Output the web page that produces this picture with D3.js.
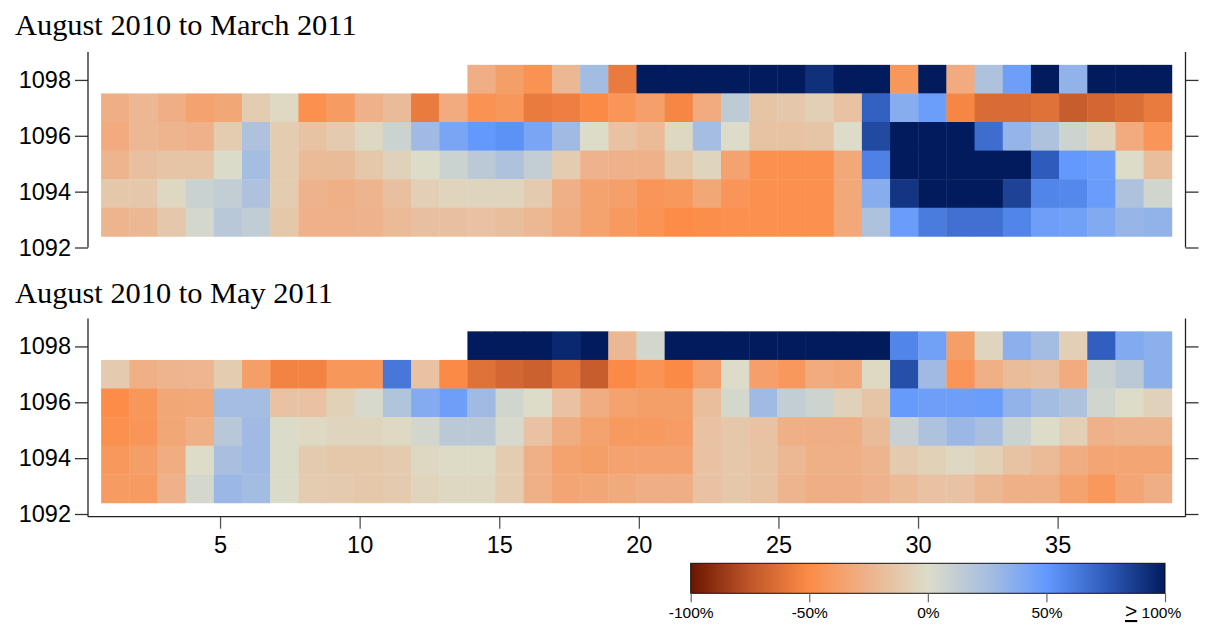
<!DOCTYPE html>
<html>
<head>
<meta charset="utf-8">
<script src="https://cdn.jsdelivr.net/npm/d3@7"></script>
<style>
  html, body { margin: 0; padding: 0; background: #fff; }
  svg { display: block; }
</style>
</head>
<body>
<svg id="chart" width="1212" height="627"></svg>
<script>
// Column numbers along the transect and depth rows (top row first)
const columns = [1,2,3,4,5,6,7,8,9,10,11,12,13,14,15,16,17,18,19,20,21,22,23,24,25,26,27,28,29,30,31,32,33,34,35,36,37,38];
const depths = [1098, 1097, 1096, 1095, 1094, 1093];
const yTicks = [1092, 1094, 1096, 1098];
const xTicks = [5, 10, 15, 20, 25, 30, 35];
const legendTicks = [-100, -50, 0, 50, 100];
const legendLabels = ["-100%", "-50%", "0%", "50%", "100%"];
const panelTitles = ["August 2010 to March 2011", "August 2010 to May 2011"];

// Percent change, August 2010 to March 2011 (null = no cell)
const mar1098 = [null,null,null,null,null,null,null,null,null,null,null,null,null,-28,-38,-46,-22,27,-58,120,120,120,120,120,120,92,120,120,-43,120,-30,22,46,120,33,120,120,120];
const mar1097 = [-28,-22,-28,-35,-33,-10,-2,-47,-40,-26,-20,-58,-30,-46,-43,-58,-56,-51,-44,-37,-53,-30,15,-14,-12,-8,-16,73,37,47,-53,-65,-65,-62,-72,-67,-64,-58];
const mar1096 = [-30,-22,-24,-26,-10,22,-10,-15,-11,-3,8,28,42,50,53,42,28,0,-16,-21,-3,26,0,-15,-15,-14,0,82,120,120,120,68,32,22,7,-4,-30,-44];
const mar1095 = [-24,-17,-14,-14,1,26,-10,-21,-20,-13,-6,0,8,16,22,12,-10,-25,-26,-26,-13,-4,-35,-47,-47,-47,-32,60,120,120,120,120,120,75,50,47,0,-18];
const mar1094 = [-13,-12,-3,9,12,22,-10,-25,-27,-24,-17,-8,-5,-4,-4,-11,-27,-36,-37,-44,-42,-33,-44,-47,-47,-47,-32,37,90,120,120,120,85,58,57,48,22,6];
const mar1093 = [-24,-22,-12,4,17,13,-13,-26,-26,-25,-21,-17,-17,-16,-18,-22,-29,-36,-41,-45,-50,-49,-47,-47,-47,-47,-32,22,48,62,67,67,58,46,45,39,31,33];

// Percent change, August 2010 to May 2011
const may1098 = [null,null,null,null,null,null,null,null,null,null,null,null,null,120,120,120,95,120,-22,5,120,120,120,120,120,120,120,120,58,45,-38,-4,35,27,-8,74,39,35];
const may1097 = [-11,-27,-24,-23,-10,-38,-54,-54,-43,-43,64,-16,-51,-62,-67,-70,-60,-72,-51,-45,-51,-37,0,-37,-42,-30,-32,-2,80,28,-44,-27,-19,-17,-30,9,16,35];
const may1096 = [-50,-43,-33,-32,26,26,-16,-16,-7,3,21,38,46,28,6,0,-16,-29,-36,-38,-38,-18,4,28,12,7,-6,-14,49,46,46,47,33,27,22,6,0,-6];
const may1095 = [-47,-44,-33,-27,17,28,1,-2,-4,-4,-2,5,16,16,3,-16,-29,-36,-41,-41,-39,-16,-13,-16,-27,-28,-28,-20,10,22,30,25,8,0,-8,-26,-24,-24];
const may1094 = [-42,-38,-29,0,25,28,1,-11,-13,-13,-11,-3,-1,-1,-10,-27,-36,-38,-36,-35,-35,-16,-13,-15,-22,-27,-27,-24,-11,-7,-3,-7,-15,-21,-29,-34,-34,-34];
const may1093 = [-40,-40,-26,4,30,27,1,-10,-11,-13,-11,-5,-3,-3,-10,-27,-34,-33,-31,-28,-28,-16,-13,-15,-24,-28,-28,-25,-21,-16,-16,-22,-27,-27,-36,-42,-34,-28];

const marchRows = [mar1098, mar1097, mar1096, mar1095, mar1094, mar1093];
const mayRows = [may1098, may1097, may1096, may1095, may1094, may1093];

// Diverging palette: brown/orange for loss, blue for gain
const colorStops = [-100, -75, -50, -25, 0, 25, 50, 75, 100];
const colorRange = ["#6b1500", "#c0562a", "#fc8c47", "#eeb38c", "#dcdcc8", "#a8bfe0", "#6399fd", "#2f5cbc", "#011b5d"];
const color = d3.scaleLinear().domain(colorStops).range(colorRange).interpolate(d3.interpolateRgb).clamp(true);

const svg = d3.select("#chart");
const sansFont = "'Liberation Sans', Arial, sans-serif";
const serifFont = "'Liberation Serif', 'Times New Roman', serif";

const xLeft = 88, xRight = 1185.5;
const x = d3.scaleLinear().domain([0.27, 39.58]).range([xLeft, xRight]);
const xBand = d3.scaleBand().domain(columns).range([x(0.74), x(39.09)]);

const panelHeight = 195.5;
const panels = [
  { title: panelTitles[0], rows: marchRows, top: 52, titleY: 34.5, xAxis: false },
  { title: panelTitles[1], rows: mayRows, top: 318.5, titleY: 302.5, xAxis: true }
];

panels.forEach(p => {
  const y = d3.scaleLinear().domain([1092, 1099]).range([p.top + panelHeight, p.top]);
  const yBand = d3.scaleBand().domain(depths).range([y(1098.54), y(1092.4)]);
  const g = svg.append("g");

  g.append("text")
    .attr("x", 15).attr("y", p.titleY)
    .attr("font-family", serifFont).attr("font-size", 30.4)
    .attr("fill", "#000")
    .text(p.title);

  // Heat cells
  const cells = [];
  depths.forEach((d, ri) => {
    columns.forEach((c, ci) => {
      const v = p.rows[ri][ci];
      if (v !== null) cells.push({ depth: d, col: c, value: v });
    });
  });
  g.append("g").selectAll("rect").data(cells).join("rect")
    .attr("x", d => xBand(d.col))
    .attr("y", d => yBand(d.depth))
    .attr("width", xBand.bandwidth() + 0.4)
    .attr("height", yBand.bandwidth() + 0.4)
    .attr("fill", d => color(d.value));

  const bottomY = p.xAxis ? p.top + panelHeight + 2.7 : y(1092);

  // Left axis
  const left = g.append("g").attr("transform", `translate(${xLeft},0)`)
    .call(d3.axisLeft(y).tickValues(yTicks).tickFormat(d3.format("d")).tickSize(13).tickPadding(4));
  left.select(".domain").remove();
  left.selectAll("line").attr("stroke", "#333").attr("stroke-width", 1.3);
  left.selectAll("text").attr("font-family", sansFont).attr("font-size", 23.5).attr("fill", "#000");
  g.append("line").attr("x1", xLeft).attr("x2", xLeft).attr("y1", p.top).attr("y2", bottomY)
    .attr("stroke", "#222").attr("stroke-width", 1.3);

  // Right axis
  const right = g.append("g").attr("transform", `translate(${xRight},0)`)
    .call(d3.axisRight(y).tickValues(yTicks).tickFormat("").tickSize(13));
  right.select(".domain").remove();
  right.selectAll("line").attr("stroke", "#333").attr("stroke-width", 1.3);
  g.append("line").attr("x1", xRight).attr("x2", xRight).attr("y1", p.top).attr("y2", bottomY)
    .attr("stroke", "#222").attr("stroke-width", 1.3);

  if (p.xAxis) {
    const bottom = g.append("g").attr("transform", `translate(0,${bottomY})`)
      .call(d3.axisBottom(x).tickValues(xTicks).tickSize(12).tickPadding(8));
    bottom.select(".domain").remove();
    bottom.selectAll("line").attr("stroke", "#555").attr("stroke-width", 1.3);
    bottom.selectAll("text").attr("font-family", sansFont).attr("font-size", 23.5).attr("fill", "#000");
    g.append("line").attr("x1", xLeft).attr("x2", xRight).attr("y1", bottomY).attr("y2", bottomY)
      .attr("stroke", "#222").attr("stroke-width", 1.3);
  }
});

// Colour key
const keyX = d3.scaleLinear().domain([-100, 100]).range([690.7, 1165]);
const keyTop = 563.3, keyH = 30;
const defs = svg.append("defs");
const grad = defs.append("linearGradient").attr("id", "keyGradient")
  .attr("x1", "0%").attr("x2", "100%").attr("y1", "0%").attr("y2", "0%");
colorStops.forEach((s, i) => {
  grad.append("stop").attr("offset", `${(s + 100) / 2}%`).attr("stop-color", colorRange[i]);
});
svg.append("rect")
  .attr("x", keyX(-100)).attr("y", keyTop)
  .attr("width", keyX(100) - keyX(-100)).attr("height", keyH)
  .attr("fill", "url(#keyGradient)")
  .attr("stroke", "#111").attr("stroke-width", 1);

const keyAxis = svg.append("g").attr("transform", `translate(0,${keyTop + keyH})`)
  .call(d3.axisBottom(keyX).tickValues(legendTicks).tickSize(9).tickPadding(5)
    .tickFormat((d, i) => i === legendTicks.length - 1 ? "" : legendLabels[i]));
keyAxis.select(".domain").remove();
keyAxis.selectAll("line").attr("stroke", "#666").attr("stroke-width", 1.2);
keyAxis.selectAll("text").attr("font-family", sansFont).attr("font-size", 15.5).attr("fill", "#000");

// Upper end label: underlined ">" reads as "greater than or equal to"
const endLabel = svg.append("text")
  .attr("x", 1125).attr("y", 618)
  .attr("font-family", sansFont).attr("font-size", 15.5).attr("fill", "#000");
endLabel.append("tspan").attr("font-size", 21).attr("text-decoration", "underline").text(">");
endLabel.append("tspan").text(" " + legendLabels[legendLabels.length - 1]);
</script>
</body>
</html>
